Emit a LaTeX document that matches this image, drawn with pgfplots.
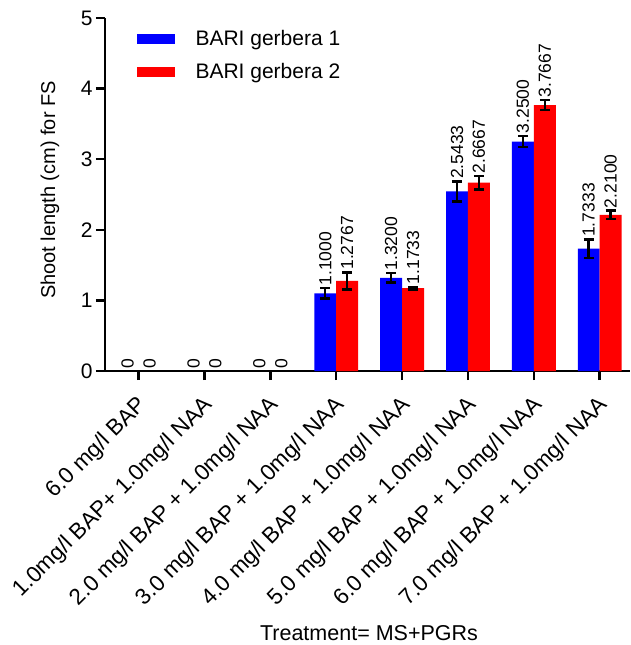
\documentclass[border=0pt]{standalone}
\usepackage{pgfplots}
\pgfplotsset{compat=1.18}
\usepackage{pgfplotstable}
\usepackage{fontspec}
\setmainfont{Liberation Sans}

\pgfplotstableread{
x b e r f lb lr
0 0 0 0 0 0 0
1 0 0 0 0 0 0
2 0 0 0 0 0 0
3 1.1000 0.075 1.2767 0.12 1.1000 1.2767
4 1.3200 0.065 1.1733 0.02 1.3200 1.1733
5 2.5433 0.14 2.6667 0.095 2.5433 2.6667
6 3.2500 0.08 3.7667 0.07 3.2500 3.7667
7 1.7333 0.13 2.2100 0.06 1.7333 2.2100
}\data

\newcommand{\bigf}{\fontsize{21.5}{25}\selectfont}
\newcommand{\tkf}{\fontsize{22.5}{26}\selectfont}
\newcommand{\ytf}{\fontsize{21}{25}\selectfont}
\newcommand{\smf}{\fontsize{17.5}{20}\selectfont}

\begin{document}
\begin{tikzpicture}
\begin{axis}[
  at={(0,0)}, anchor=south west,
  width=525pt, height=353pt, scale only axis,
  xmin=-0.51, xmax=7.46, ymin=0, ymax=5,
  axis x line*=bottom, axis y line*=left,
  axis line style={line width=2.5pt, black},
  xtick={0,...,7},
  xticklabels={6.0 mg/l BAP, 1.0mg/l BAP+ 1.0mg/l NAA, 2.0 mg/l BAP + 1.0mg/l NAA, 3.0 mg/l BAP + 1.0mg/l NAA, 4.0 mg/l BAP + 1.0mg/l NAA, 5.0 mg/l BAP + 1.0mg/l NAA, 6.0 mg/l BAP + 1.0mg/l NAA, 7.0 mg/l BAP + 1.0mg/l NAA},
  xticklabel style={xshift=9pt, yshift=-26pt, rotate=45, anchor=base east, inner sep=0pt, font=\tkf},
  ytick={0,...,5},
  yticklabel style={font=\ytf},
  /pgf/number format/assume math mode=true,
  tick style={line width=2.5pt, black},
  major tick length=9pt, tick align=outside,
  xlabel={Treatment= MS+PGRs}, ylabel={Shoot length (cm) for FS},
  xlabel style={font=\bigf, at={(axis description cs:0.5,0)}, anchor=center, yshift=-262pt, xshift=1.5pt},
  ylabel style={font=\fontsize{20}{24}\selectfont, at={(axis description cs:-0.1048,0.5127)}, anchor=center},
  legend style={at={(0.054,0.976)}, anchor=north west, draw=none, fill=none, font=\fontsize{21}{25}\selectfont, row sep=12pt},
  legend cell align=left,
  clip=false,
]
\addplot[ybar, bar width=0.333, bar shift=-0.1667, fill=blue, draw=none,
  restrict x to domain=2.5:7.5,
  legend image code/.code={\fill[blue] (0pt,-5pt) rectangle (38pt,5pt); \path (57pt,0pt);}]
  table[x=x, y=b]{\data};
\addlegendentry{BARI gerbera 1}
\addplot[ybar, bar width=0.333, bar shift=0.1667, fill=red, draw=none,
  restrict x to domain=2.5:7.5,
  legend image code/.code={\fill[red] (0pt,-5pt) rectangle (38pt,5pt); \path (57pt,0pt);}]
  table[x=x, y=r]{\data};
\addlegendentry{BARI gerbera 2}
% error bars
\addplot[draw=none, mark=none, forget plot, restrict x to domain=2.5:7.5,
  error bars/.cd, y dir=both, y explicit,
  error bar style={line width=2.5pt, black},
  error mark options={black, line width=2.5pt, mark size=5pt, rotate=90}]
  table[x expr=\thisrow{x}-0.1667, y=b, y error=e]{\data};
\addplot[draw=none, mark=none, forget plot, restrict x to domain=2.5:7.5,
  error bars/.cd, y dir=both, y explicit,
  error bar style={line width=2.5pt, black},
  error mark options={black, line width=2.5pt, mark size=5pt, rotate=90}]
  table[x expr=\thisrow{x}+0.1667, y=r, y error=f]{\data};
% value labels
\addplot[draw=none, mark=none, forget plot, point meta=explicit symbolic,
  nodes near coords, nodes near coords style={rotate=90, anchor=west, inner sep=2.5pt, font=\smf, text=black}]
  table[x expr=\thisrow{x}-0.1667, y expr=\thisrow{b}+\thisrow{e}, meta=lb]{\data};
\addplot[draw=none, mark=none, forget plot, point meta=explicit symbolic,
  nodes near coords, nodes near coords style={rotate=90, anchor=west, inner sep=2.5pt, font=\smf, text=black}]
  table[x expr=\thisrow{x}+0.1667, y expr=\thisrow{r}+\thisrow{f}, meta=lr]{\data};
\end{axis}
\pgfresetboundingbox
\path (-105pt,-274pt) rectangle (525pt,371pt);
\end{tikzpicture}
\end{document}
